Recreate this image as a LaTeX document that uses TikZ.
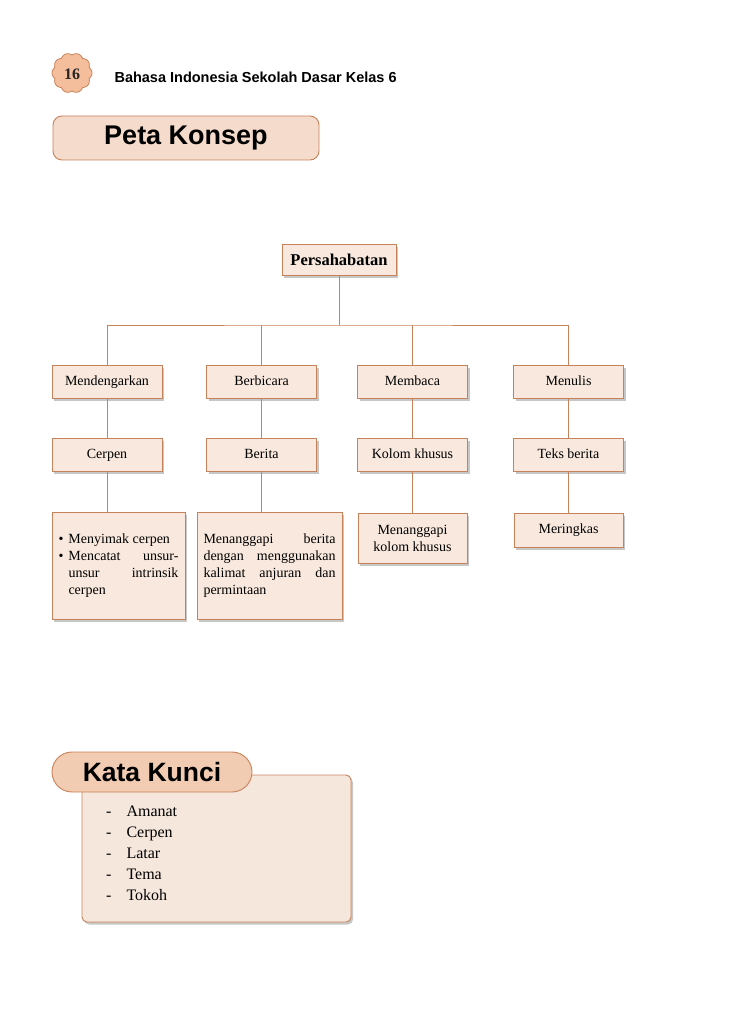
\documentclass[tikz,border=0pt]{standalone}
\usepackage{fontspec}
\setmainfont{Liberation Serif}
\setsansfont{Liberation Sans}
\usetikzlibrary{shadows}

\definecolor{garis}{RGB}{198,130,90}
\definecolor{isi}{RGB}{248,232,221}
\definecolor{lencana}{RGB}{244,190,156}
\definecolor{judulisi}{RGB}{244,219,203}
\definecolor{tabisi}{RGB}{241,203,178}
\definecolor{kkisi}{RGB}{246,231,221}

\newcommand{\butir}[1]{\noindent\hangindent=10pt\hangafter=1\makebox[10pt][l]{\textbullet}#1\par}

\tikzset{
  bayang/.style={drop shadow={shadow xshift=2pt,shadow yshift=-2.5pt,fill=black,opacity=0.22}},
  kotak/.style={draw=garis,fill=isi,line width=0.7pt,inner sep=0pt,bayang},
  cabang/.style={kotak,minimum width=110pt,minimum height=33pt,text height=10pt,text depth=3pt,font=\fontsize{14}{17}\selectfont},
  rincian/.style={kotak,font=\fontsize{14}{17}\selectfont},
  hubung/.style={draw=garis,line width=0.8pt},
}

\begin{document}
\begin{tikzpicture}[x=1pt,y=-1pt]
\useasboundingbox (0,0) rectangle (728,1035);

% kepala halaman
\draw[draw=garis,fill=lencana,line width=0.8pt] plot[domain=0:360,samples=241] ({72+(18+2*abs(cos(5*\x)))*cos(\x)},{73+(18+2*abs(cos(5*\x)))*sin(\x)}) -- cycle;
\node[font=\bfseries\fontsize{16}{16}\selectfont,text=black!85] (nomor) at (72,74) {16};
\node[anchor=west,font=\sffamily\bfseries\fontsize{14.5}{17}\selectfont] (judulbuku) at (111,77) {Bahasa Indonesia Sekolah Dasar Kelas 6};

% judul peta konsep
\node[draw=garis,fill=judulisi,line width=0.9pt,rounded corners=9pt,minimum width=266pt,minimum height=44pt,font=\sffamily\bfseries\fontsize{27}{30}\selectfont] (peta) at (186,138) {Peta Konsep};

% akar
\node[kotak,minimum width=114pt,minimum height=31pt,font=\bfseries\fontsize{16.5}{19}\selectfont] (akar) at (339,260) {Persahabatan};

% tingkat kedua
\node[cabang] (dengar) at (107,381.5) {Mendengarkan};
\node[cabang] (bicara) at (261.5,381.5) {Berbicara};
\node[cabang] (baca) at (412.5,381.5) {Membaca};
\node[cabang] (tulis) at (568.5,381.5) {Menulis};

% tingkat ketiga
\node[cabang] (cerpen) at (107,455) {Cerpen};
\node[cabang] (berita) at (261.5,455) {Berita};
\node[cabang] (kolom) at (412.5,455) {Kolom khusus};
\node[cabang] (teks) at (568.5,455) {Teks berita};

% rincian
\node[rincian,minimum width=133pt,minimum height=107pt,text width=120pt,align=justify] (rcerpen) at (118.5,565.5)
  {\butir{Menyimak cerpen}\butir{Mencatat unsur-\linebreak unsur intrinsik\linebreak cerpen}};
\node[rincian,minimum width=145pt,minimum height=107pt,text width=132pt,align=justify] (rberita) at (269.5,565.5)
  {Menanggapi berita\linebreak dengan menggunakan\linebreak kalimat anjuran dan\linebreak permintaan};
\node[rincian,minimum width=109pt,minimum height=50pt,align=center] (rkolom) at (412.5,538) {Menanggapi\\kolom khusus};
\node[rincian,minimum width=109pt,minimum height=34pt] (rteks) at (568.5,530) {Meringkas};

% penghubung
\coordinate (simpang) at (339,325);
\draw[hubung] (akar.south) -- (simpang);
\draw[hubung] (dengar.north) |- (simpang) -| (tulis.north);
\draw[hubung] (bicara.north) -- (bicara.north |- simpang);
\draw[hubung] (baca.north) -- (baca.north |- simpang);
\draw[hubung] (dengar.south) -- (cerpen.north);
\draw[hubung] (bicara.south) -- (berita.north);
\draw[hubung] (baca.south) -- (kolom.north);
\draw[hubung] (tulis.south) -- (teks.north);
\draw[hubung] (cerpen.south) -- (cerpen.south |- rcerpen.north);
\draw[hubung] (berita.south) -- (berita.south |- rberita.north);
\draw[hubung] (kolom.south) -- (rkolom.north);
\draw[hubung] (teks.south) -- (rteks.north);

% kata kunci
\node[draw=garis,fill=kkisi,line width=0.9pt,rounded corners=5pt,minimum width=269pt,minimum height=147pt,bayang] (kunci) at (216.5,848.5) {};
\node[draw=garis,fill=tabisi,line width=0.9pt,rounded corners=20pt,minimum width=200pt,minimum height=40pt,font=\sffamily\bfseries\fontsize{26.5}{30}\selectfont] (tabkunci) at (152,772) {Kata Kunci};
\node[anchor=west,inner sep=0pt,font=\fontsize{16}{21}\selectfont] (daftar) at (106,854)
  {\begin{tabular}{@{}c@{\hspace{15pt}}l@{}}
   - & Amanat\\
   - & Cerpen\\
   - & Latar\\
   - & Tema\\
   - & Tokoh
   \end{tabular}};
\end{tikzpicture}
\end{document}
